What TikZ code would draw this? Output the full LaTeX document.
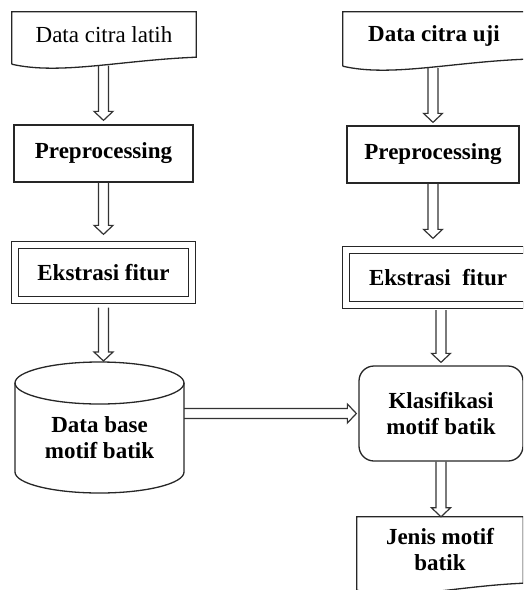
\documentclass[tikz,border=0pt]{standalone}
\usepackage{fontspec}
\setmainfont{Liberation Serif}
\usetikzlibrary{positioning,arrows.meta,calc}

% outline of a document box: straight top and sides, wavy foot
\newcommand{\docout}[1]{%
  \draw[outl] ($(#1.south west)+(0,7)$) -- (#1.north west) -- (#1.north east) -- (#1.south east)
    .. controls ($(#1.south east)!0.41!(#1.south west)+(0,3)$)
       and ($(#1.south east)!0.74!(#1.south west)+(0,18)$) .. ($(#1.south west)+(0,7)$);}
% hollow block arrow from #1 to #2
\newcommand{\harrow}[2]{%
  \coordinate (hh) at ($(#2)!9pt!(#1)$);
  \draw[hollow] ($(#1)!5pt!90:(#2)$) -- ($(hh)!5pt!-90:(#1)$) -- ($(hh)!9.5pt!-90:(#1)$) -- (#2)
    -- ($(hh)!9.5pt!90:(#1)$) -- ($(hh)!5pt!90:(#1)$) -- ($(#1)!5pt!-90:(#2)$);}

\begin{document}
\begin{tikzpicture}[
  x=1pt,y=-1pt,
  font=\fontsize{23}{26}\selectfont\bfseries,
  base/.style={align=center,inner sep=0pt},
  box/.style={base,draw=black!85,line width=1.3pt},
  docu/.style={base},
  twin/.style={box,double,double distance=6pt},
  soft/.style={box,rounded corners=15pt},
  outl/.style={draw=black!85,line width=1.3pt},
  hollow/.style={draw=black!80,line width=1.2pt,line join=miter},
]
\clip (0,0) rectangle (523,590);
% left column: training images
\node[docu,minimum width=184pt,minimum height=45pt,font=\fontsize{23}{26}\selectfont] (latih) at (104,34.5) {Data citra latih};
\node[box,minimum width=179pt,minimum height=57pt] (prepl) at (103.5,153.5) {Preprocessing};
\node[twin,minimum width=177pt,minimum height=55pt] (ekstl) at (103.5,272.5) {Ekstrasi fitur};
\node[base] (dbase) at (99.5,438) {Data base\\motif batik};
% right column: test images
\node[docu,minimum width=182pt,minimum height=47pt] (uji) at (434,35.5) {Data citra uji};
\node[box,minimum width=172pt,minimum height=57pt] (prepr) at (433,154.5) {Preprocessing};
\node[twin,minimum width=184pt,minimum height=55pt] (ekstr) at (438,277.5) {Ekstrasi\ \ fitur};
\node[soft,minimum width=164pt,minimum height=95pt] (klas) at (441,413.5) {Klasifikasi\\motif batik};
\node[docu,minimum width=166pt,minimum height=66pt] (jenis) at (440,550) {Jenis motif\\batik};
% ---- outlines ----
\docout{latih}
\docout{uji}
\docout{jenis}
% database cylinder round the text
\draw[outl] ($(dbase)+(0,-55)$) ellipse[x radius=84.5pt,y radius=21pt];
\draw[outl] ($(dbase)+(-84.5,-55)$) -- ($(dbase)+(-84.5,34)$)
  arc[start angle=180,end angle=360,x radius=84.5pt,y radius=21pt] -- ($(dbase)+(84.5,-55)$);
\coordinate (dbtop) at ($(dbase)+(0,-76)$);
\coordinate (dbright) at ($(dbase)+(84.5,0)$);
\coordinate (latw) at ($(latih.south)+(0,8.5)$);
\coordinate (ujiw) at ($(uji.south)+(0,9)$);
% ---- arrows ----
\coordinate (a1s) at (latw -| prepl.north);           \coordinate (a1e) at ($(prepl.north)+(0,-4)$);
\coordinate (a2s) at (prepl.south);                   \coordinate (a2e) at ($(ekstl.north)+(0,-10)$);
\coordinate (a3s) at ($(ekstl.south)+(0,7)$);         \coordinate (a3e) at ($(ekstl.south |- dbtop)+(0,-1)$);
\coordinate (a4s) at (dbright |- klas.west);          \coordinate (a4e) at ($(klas.west)+(-2,0)$);
\coordinate (a5s) at (ujiw -| prepr.north);           \coordinate (a5e) at ($(prepr.north)+(0,-3)$);
\coordinate (a6s) at (prepr.south);                   \coordinate (a6e) at ($(prepr.south |- ekstr.north)+(0,-11)$);
\coordinate (a7s) at ($(klas.north |- ekstr.south)+(0,4.5)$); \coordinate (a7e) at ($(klas.north)+(0,-3)$);
\coordinate (a8s) at (klas.south);                    \coordinate (a8e) at (klas.south |- jenis.north);
\harrow{a1s}{a1e}
\harrow{a2s}{a2e}
\harrow{a3s}{a3e}
\harrow{a4s}{a4e}
\harrow{a5s}{a5e}
\harrow{a6s}{a6e}
\harrow{a7s}{a7e}
\harrow{a8s}{a8e}
\end{tikzpicture}
\end{document}
